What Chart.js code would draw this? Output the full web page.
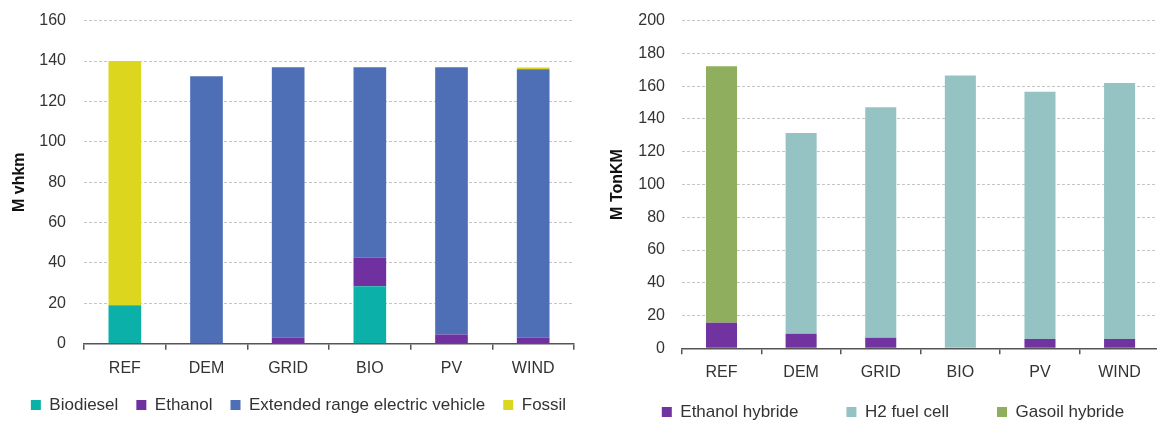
<!DOCTYPE html>
<html>
<head>
<meta charset="utf-8">
<script src="https://cdn.jsdelivr.net/npm/chart.js@4/dist/chart.umd.min.js"></script>
<style>
  html, body { margin:0; padding:0; width:1157px; height:423px; overflow:hidden; background:#fff; position:relative; }
  #w1 { position:absolute; left:0; top:0; width:597px; height:423px; }
  #w2 { position:absolute; left:590px; top:7px; width:606px; height:423px; }
</style>
</head>
<body>
<div id="w1"><canvas id="c1"></canvas></div>
<div id="w2"><canvas id="c2"></canvas></div>
<script>
// ---- data ----
const categories = ["REF", "DEM", "GRID", "BIO", "PV", "WIND"];

// Left chart: passenger transport (M vhkm)
const biodiesel = [19, 0, 0, 28.4, 0, 0];
const ethanol = [0, 0, 3, 14.3, 4.5, 3];
const extendedRangeEV = [0, 132.5, 134, 94.3, 132.5, 133];
const fossil = [121, 0, 0, 0, 0, 0.8];
const leftTicks = [0, 20, 40, 60, 80, 100, 120, 140, 160];

// Right chart: freight transport (M TonKM)
const ethanolHybride = [15.6, 8.9, 6.5, 0, 5.7, 5.7];
const h2FuelCell = [0, 122.5, 140.7, 166.6, 150.9, 156.3];
const gasoilHybride = [156.6, 0, 0, 0, 0, 0];
const rightTicks = [0, 20, 40, 60, 80, 100, 120, 140, 160, 180, 200];

const FONT = "'Liberation Sans', Arial, sans-serif";
Chart.defaults.font.family = FONT;
Chart.defaults.color = '#333';
Chart.defaults.animation = false;

const LEGEND_FONT = 17;

// places the legend row so that its text is centred on a given y
const legendPlacer = {
  id: 'legendPlacer',
  afterLayout(chart, args, o) {
    const lg = chart.legend;
    if (!lg) return;
    const h = LEGEND_FONT + o.pad * 2 + 10;
    lg.top = o.centerY - o.pad - LEGEND_FONT / 2;
    lg.height = h;
    lg.bottom = lg.top + h;
  }
};

function makeChart(id, datasets, ticks, yTitle, opts) {
  return new Chart(document.getElementById(id), {
    type: 'bar',
    data: { labels: categories, datasets: datasets.map(d => ({
      label: d.label, data: d.data, backgroundColor: d.color, borderWidth: 0,
      barPercentage: opts.barPct, categoryPercentage: 1
    })) },
    plugins: [legendPlacer],
    options: {
      responsive: true, maintainAspectRatio: false,
      layout: { padding: { top: opts.padTop, right: 0, left: 0, bottom: 0 } },
      plugins: {
        tooltip: { enabled: false },
        legendPlacer: { centerY: opts.legendY, pad: opts.legendPad },
        legend: {
          position: 'bottom',
          maxHeight: 30,
          labels: { boxWidth: 10, boxHeight: 10, padding: opts.legendPad, color: '#333',
                    font: { size: LEGEND_FONT, family: FONT } }
        }
      },
      scales: {
        x: {
          stacked: true,
          grid: { offset: true, drawOnChartArea: false, drawTicks: true, tickLength: 6, color: '#555', lineWidth: 1.5 },
          border: { display: true, color: '#555', width: 1.5 },
          ticks: { padding: 9, color: '#333', font: { size: 16 } },
          afterFit: s => { s.height = opts.xHeight; }
        },
        y: {
          stacked: true,
          min: ticks[0], max: ticks[ticks.length - 1],
          afterBuildTicks: s => { s.ticks = ticks.map(v => ({ value: v })); },
          grid: { color: '#c4c4c4', lineWidth: 1, drawTicks: true, tickLength: opts.yTickGap, tickColor: 'rgba(0,0,0,0)' },
          border: { display: false, dash: [3, 2] },
          ticks: { padding: 0, color: '#333', font: { size: 16 } },
          title: { display: true, text: yTitle, color: '#111', font: { size: 16, weight: 'bold' },
                   padding: { top: opts.titlePad, bottom: 0 } },
          afterFit: s => { s.width = opts.yWidth; }
        },
        spacer: {
          type: 'linear', position: 'right', display: true,
          grid: { display: false }, border: { display: false }, ticks: { display: false },
          afterFit: s => { s.width = opts.rightGap; }
        }
      }
    }
  });
}

makeChart('c1', [
  { label: 'Biodiesel', data: biodiesel, color: '#0bb0a9' },
  { label: 'Ethanol', data: ethanol, color: '#7030a0' },
  { label: 'Extended range electric vehicle', data: extendedRangeEV, color: '#4e6fb6' },
  { label: 'Fossil', data: fossil, color: '#dcd61e' }
], leftTicks, 'M vhkm', {
  barPct: 0.4, padTop: 20.7, rightGap: 23, legendPad: 18, legendY: 405, xHeight: 49.3,
  yTickGap: 18, titlePad: 10.4, yWidth: 84
});

makeChart('c2', [
  { label: 'Ethanol hybride', data: ethanolHybride, color: '#7033a0' },
  { label: 'H2 fuel cell', data: h2FuelCell, color: '#95c3c4' },
  { label: 'Gasoil hybride', data: gasoilHybride, color: '#8fae5e' }
], rightTicks, 'M TonKM', {
  barPct: 0.39, padTop: 13.7, rightGap: 36.6, legendPad: 48, legendY: 405, xHeight: 51.7,
  yTickGap: 16.7, titlePad: 18.4, yWidth: 91.7
});
</script>
</body>
</html>
